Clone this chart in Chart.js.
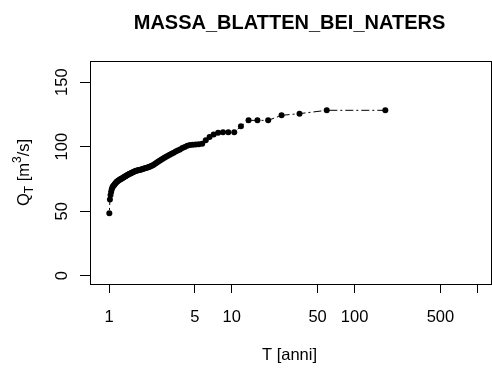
<!DOCTYPE html>
<html><head><meta charset="utf-8">
<script src="https://cdn.jsdelivr.net/npm/chart.js@4.4.1/dist/chart.umd.min.js"></script>
<style>html,body{margin:0;padding:0;background:#fff;}#wrap{width:492px;height:372px;position:relative;}canvas{display:block;}</style>
</head><body><div id="wrap"><canvas id="c" width="492" height="372"></canvas></div>
<script>
const chartTitle = "MASSA_BLATTEN_BEI_NATERS";
const xTitle = "T [anni]";

// return periods T (anni), by rank 1..89
const returnPeriods = [
  178.0, 59.33, 35.60, 25.43, 19.78, 16.18, 13.69, 11.87, 10.47, 9.368,
  8.476, 7.739, 7.120, 6.593, 6.138, 5.742, 5.394, 5.086, 4.811, 4.564,
  4.341, 4.140, 3.956, 3.787, 3.633, 3.490, 3.358, 3.236, 3.123, 3.017,
  2.918, 2.825, 2.738, 2.657, 2.580, 2.507, 2.438, 2.373, 2.312, 2.253,
  2.198, 2.145, 2.094, 2.046, 2.000, 1.956, 1.914, 1.874, 1.835, 1.798,
  1.762, 1.728, 1.695, 1.664, 1.633, 1.604, 1.575, 1.548, 1.521, 1.496,
  1.471, 1.447, 1.424, 1.402, 1.380, 1.359, 1.338, 1.319, 1.299, 1.281,
  1.262, 1.245, 1.228, 1.211, 1.195, 1.179, 1.163, 1.148, 1.134, 1.119,
  1.106, 1.092, 1.079, 1.066, 1.053, 1.041, 1.029, 1.017, 1.006
];
// discharges Q_T (m^3/s)
const discharges = [
  128.2, 128.2, 125.6, 124.3, 120.4, 120.4, 120.4, 115.8, 111.2, 111.2,
  111.2, 110.8, 109.5, 107.5, 105.0, 102.3, 101.9, 101.7, 101.5, 101.3,
  100.8, 99.8, 98.9, 97.9, 97.0, 96.2, 95.4, 94.6, 93.8, 93.0,
  92.2, 91.4, 90.6, 89.8, 89.1, 88.4, 87.6, 86.8, 86.1, 85.5,
  85.0, 84.5, 84.0, 83.8, 83.5, 83.2, 82.9, 82.7, 82.4, 82.2,
  82.0, 81.8, 81.5, 81.3, 81.0, 80.7, 80.3, 80.0, 79.6, 79.3,
  79.0, 78.6, 78.2, 77.8, 77.5, 77.1, 76.8, 76.4, 76.0, 75.6,
  75.2, 74.9, 74.5, 74.1, 73.8, 73.4, 73.0, 72.4, 71.8, 71.2,
  70.6, 70.0, 69.3, 68.5, 67.0, 65.0, 62.5, 59.0, 48.5
];

const xTickValues = [1, 5, 10, 50, 100, 500, 1000];
const xTickLabels = ["1", "5", "10", "50", "100", "500", ""];
const yTickValues = [0, 50, 100, 150];
const yTickLabels = ["0", "50", "100", "150"];

const FONT = "'Liberation Sans', Arial, Helvetica, sans-serif";
const FS = 16.5;

const points = returnPeriods.map((t, i) => ({ x: t, y: discharges[i] }));

const decor = {
  id: 'decor',
  afterDraw(chart) {
    const ctx = chart.ctx;
    const a = chart.chartArea;
    const ys = chart.scales.y;
    ctx.save();
    ctx.strokeStyle = '#000';
    ctx.lineWidth = 1;
    ctx.strokeRect(a.left + 0.5, a.top + 0.5, a.right - a.left + 2, a.bottom - a.top);
    ctx.fillStyle = '#000';
    // title
    ctx.font = 'bold 20px ' + FONT;
    ctx.textAlign = 'center';
    ctx.textBaseline = 'middle';
    ctx.fillText(chartTitle, (a.left + a.right) / 2, 23);
    // x title
    ctx.font = FS + 'px ' + FONT;
    ctx.fillText(xTitle, (a.left + a.right) / 2, 355);
    // y tick labels (rotated, R style)
    yTickValues.forEach((v, i) => {
      const py = ys.getPixelForValue(v);
      ctx.save();
      ctx.translate(62, py);
      ctx.rotate(-Math.PI / 2);
      ctx.textAlign = 'center';
      ctx.textBaseline = 'middle';
      ctx.fillText(yTickLabels[i], 0, 0);
      ctx.restore();
    });
    // y title with subscript / superscript
    const parts = [
      { t: 'Q', f: FS, dy: 0 },
      { t: 'T', f: 12, dy: 4 },
      { t: ' [m', f: FS, dy: 0 },
      { t: '3', f: 12, dy: -8 },
      { t: '/s]', f: FS, dy: 0 }
    ];
    let total = 0;
    parts.forEach(p => { ctx.font = p.f + 'px ' + FONT; p.w = ctx.measureText(p.t).width; total += p.w; });
    ctx.save();
    ctx.translate(23, (a.top + a.bottom) / 2);
    ctx.rotate(-Math.PI / 2);
    ctx.textAlign = 'left';
    ctx.textBaseline = 'alphabetic';
    let x = -total / 2;
    parts.forEach(p => {
      ctx.font = p.f + 'px ' + FONT;
      ctx.fillText(p.t, x, 6 + p.dy);
      x += p.w;
    });
    ctx.restore();
    ctx.restore();
  }
};

new Chart(document.getElementById('c'), {
  type: 'scatter',
  data: {
    datasets: [{
      data: points,
      showLine: true,
      borderColor: '#000',
      borderWidth: 1,
      borderDash: [8, 3, 2, 3],
      pointRadius: 3,
      pointHoverRadius: 3,
      pointBackgroundColor: '#000',
      pointBorderWidth: 0,
      tension: 0
    }]
  },
  options: {
    responsive: false,
    animation: false,
    devicePixelRatio: 1,
    layout: { padding: { top: 61, left: 0, right: 0, bottom: 0 } },
    plugins: { legend: { display: false }, title: { display: false }, tooltip: { enabled: false } },
    scales: {
      x: {
        type: 'logarithmic',
        position: 'bottom',
        min: 0.734,
        max: 1244,
        afterBuildTicks: s => { s.ticks = xTickValues.map(v => ({ value: v })); },
        afterFit: s => { s.height = 88; s.paddingLeft = 0; s.paddingRight = 0; },
        ticks: {
          autoSkip: false, maxRotation: 0, minRotation: 0, padding: 15, color: '#000',
          font: { family: FONT, size: FS },
          callback: (v, i) => xTickLabels[i]
        },
        grid: { drawOnChartArea: false, drawTicks: true, tickLength: 9, color: '#000', lineWidth: 1 },
        border: { display: false }
      },
      y: {
        type: 'linear',
        position: 'left',
        min: -6.4,
        max: 166.4,
        afterBuildTicks: s => { s.ticks = yTickValues.map(v => ({ value: v })); },
        afterFit: s => { s.width = 90; s.paddingTop = 0; s.paddingBottom = 0; },
        ticks: { display: false },
        grid: { drawOnChartArea: false, drawTicks: true, tickLength: 10, color: '#000', lineWidth: 1 },
        border: { display: false }
      }
    }
  },
  plugins: [decor]
});
</script>
</body></html>
